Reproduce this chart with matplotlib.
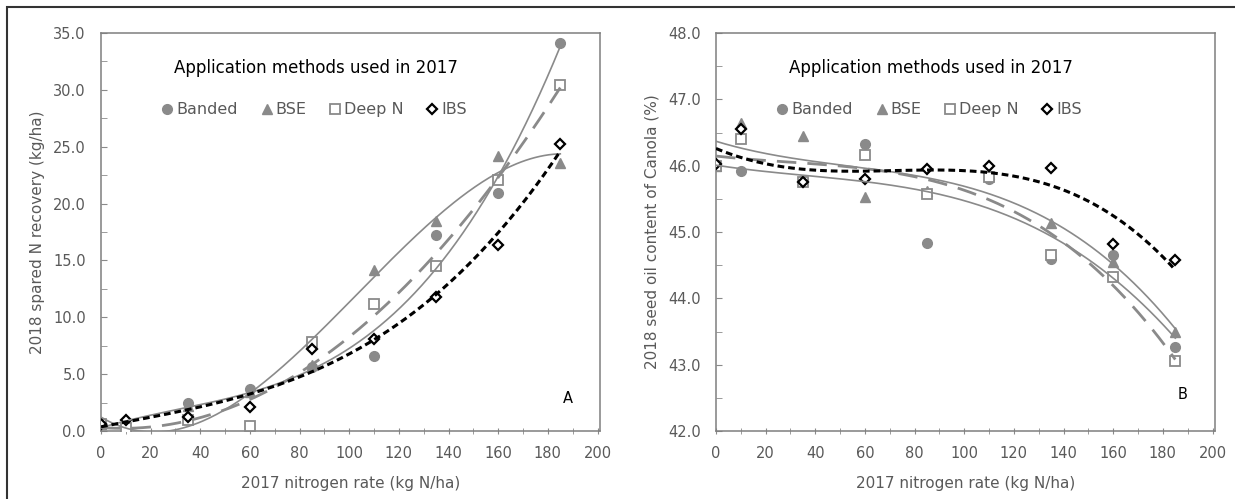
import numpy as np
import matplotlib.pyplot as plt
from matplotlib.lines import Line2D
from matplotlib.patches import Rectangle
from matplotlib.ticker import MultipleLocator, FormatStrFormatter

plt.rcParams['font.family'] = ['DejaVu Sans']

rates = [0, 10, 35, 60, 85, 110, 135, 160, 185]
methods = ['Banded', 'BSE', 'Deep N', 'IBS']

# panel A: 2018 spared N recovery (kg/ha)
recovery = {
    'Banded': [0.65, 0.15, 2.5, 3.7, 5.6, 6.6, 17.2, 20.9, 34.1],
    'BSE':    [0.6, 0.2, 2.2, 3.4, 5.8, 14.2, 18.5, 24.2, 23.6],
    'Deep N': [0.6, 0.3, 1.0, 0.4, 7.8, 11.2, 14.5, 22.1, 30.4],
    'IBS':    [0.6, 1.0, 1.2, 2.1, 7.2, 8.1, 11.8, 16.4, 25.2],
}
# panel B: 2018 seed oil content of canola (%)
oil = {
    'Banded': [46.0, 45.92, 45.78, 46.33, 44.83, 45.8, 44.6, 44.65, 43.27],
    'BSE':    [46.0, 46.65, 46.44, 45.53, 45.62, 45.88, 45.13, 44.55, 43.5],
    'Deep N': [46.0, 46.4, 45.76, 46.16, 45.58, 45.83, 44.66, 44.32, 43.06],
    'IBS':    [46.02, 46.55, 45.76, 45.8, 45.95, 46.0, 45.97, 44.82, 44.58],
}
degree_a = {'Banded': 3, 'BSE': 3, 'Deep N': 2, 'IBS': 3}
degree_b = {'Banded': 3, 'BSE': 3, 'Deep N': 3, 'IBS': 3}

grey = '#8a8a8a'
text_grey = '#595959'
marker_style = {
    'Banded': dict(marker='o', mfc=grey, mec=grey, ms=7),
    'BSE':    dict(marker='^', mfc=grey, mec=grey, ms=7),
    'Deep N': dict(marker='s', mfc='white', mec=grey, ms=7.5, mew=1.3),
    'IBS':    dict(marker='D', mfc='white', mec='black', ms=5.5, mew=1.6),
}
line_style = {
    'Banded': dict(color=grey, lw=1.2, ls='-'),
    'BSE':    dict(color=grey, lw=1.2, ls='-'),
    'Deep N': dict(color=grey, lw=2.0, ls=(0, (7, 4))),
    'IBS':    dict(color='black', lw=2.2, ls=(0, (2.2, 1.3))),
}


def draw_panel(ax, data, degrees, ylim, ymajor, ylabel, letter, letter_y):
    xs = np.linspace(0, 185, 200)
    x = np.array(rates, dtype=float)
    for m in methods:
        ax.plot(x, data[m], ls='none', zorder=3, **marker_style[m])
    for m in methods:
        coef = np.polyfit(x, data[m], degrees[m])
        ax.plot(xs, np.polyval(coef, xs), zorder=4, **line_style[m])
    ax.set_xlim(0, 201)
    ax.set_ylim(*ylim)
    ax.xaxis.set_major_locator(MultipleLocator(20))
    ax.xaxis.set_minor_locator(MultipleLocator(10))
    ax.yaxis.set_major_locator(MultipleLocator(ymajor))
    ax.yaxis.set_minor_locator(MultipleLocator(ymajor / 2))
    ax.yaxis.set_major_formatter(FormatStrFormatter('%.1f'))
    ax.tick_params(axis='x', which='both', direction='inout', length=5,
                   color=grey, labelcolor=text_grey, labelsize=10.5, pad=8)
    ax.tick_params(axis='y', which='both', direction='in', length=4,
                   color=grey, labelcolor=text_grey, labelsize=10.5, pad=11)
    for s in ax.spines.values():
        s.set_color('#7f7f7f')
        s.set_linewidth(1.1)
    ax.set_xlabel('2017 nitrogen rate (kg N/ha)', color=text_grey, fontsize=11, labelpad=11)
    ax.set_ylabel(ylabel, color=text_grey, fontsize=11, labelpad=6)
    ax.text(188, letter_y, letter, fontsize=10.5, color='black', ha='center', va='center')

    ax.text(0.43, 0.912, 'Application methods used in 2017', transform=ax.transAxes,
            ha='center', va='center', fontsize=12, color='black')
    handles = [Line2D([], [], ls='none', **marker_style[m]) for m in methods]
    ax.legend(handles, methods, ncol=4, loc='center', bbox_to_anchor=(0.425, 0.807),
              frameon=False, fontsize=11.5, handletextpad=0.05, handlelength=1.0,
              columnspacing=1.3, labelcolor=text_grey, borderpad=0)


fig = plt.figure(figsize=(12.35, 4.99), dpi=100)
ax1 = fig.add_axes([101 / 1235, 1 - 431 / 499, 499 / 1235, 398 / 499])
ax2 = fig.add_axes([716 / 1235, 1 - 431 / 499, 499 / 1235, 398 / 499])

draw_panel(ax1, recovery, degree_a, (0, 35), 5.0, '2018 spared N recovery (kg/ha)', 'A', 2.9)
draw_panel(ax2, oil, degree_b, (42, 48), 1.0, '2018 seed oil content of Canola (%)', 'B', 42.55)

fig.add_artist(Rectangle((7 / 1235, -0.1), 1.2, 1 - 7 / 499 + 0.1,
                         transform=fig.transFigure, fill=False,
                         edgecolor='#333333', lw=1.5))

fig.savefig('out.png', dpi=100)
